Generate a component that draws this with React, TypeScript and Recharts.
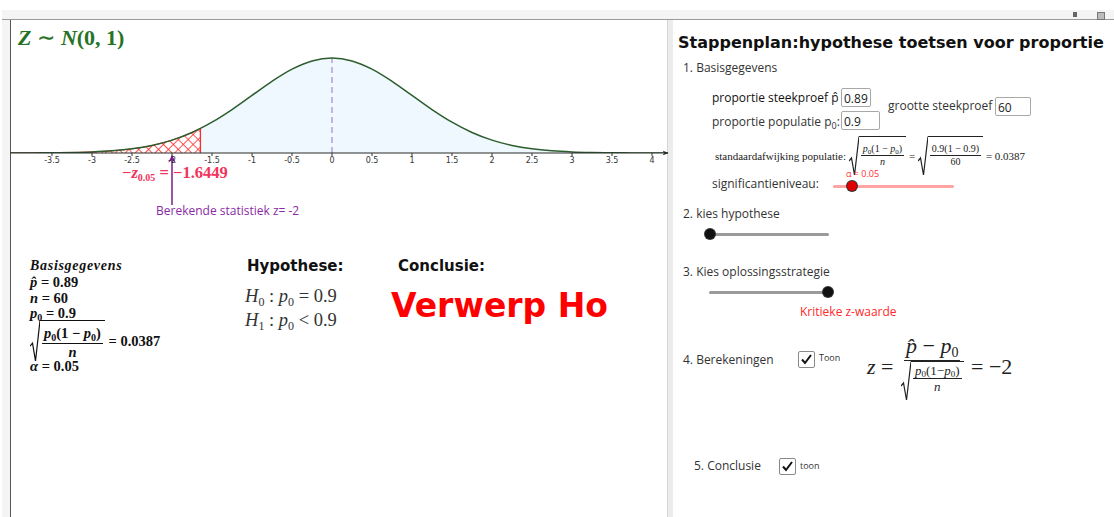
import React from 'react'
import { Area, ComposedChart, Line, ReferenceLine, XAxis, YAxis } from 'recharts'

// z positions and standard normal density
const zValues = [
  -4.05, -4, -3.75, -3.5, -3.25, -3, -2.75, -2.5, -2.25, -2, -1.75, -1.6449, -1.5, -1.25, -1, -0.75,
  -0.5, -0.25, 0, 0.25, 0.5, 0.75, 1, 1.25, 1.5, 1.75, 2, 2.25, 2.5, 2.75, 3, 3.25, 3.5, 3.75, 4, 4.25,
]
const density = [
  0.0001, 0.0001, 0.0004, 0.0009, 0.002, 0.0044, 0.0091, 0.0175, 0.0317, 0.054, 0.0863, 0.1031, 0.1295,
  0.1826, 0.242, 0.3011, 0.3521, 0.3867, 0.3989, 0.3867, 0.3521, 0.3011, 0.242, 0.1826, 0.1295, 0.0863,
  0.054, 0.0317, 0.0175, 0.0091, 0.0044, 0.002, 0.0009, 0.0004, 0.0001, 0.00005,
]
const xTicks = [-3.5, -3, -2.5, -2, -1.5, -1, -0.5, 0, 0.5, 1, 1.5, 2, 2.5, 3, 3.5, 4]
const criticalZ = -1.6449
const testZ = -2

const rows = zValues.map((z, i) => ({
  z,
  f: density[i],
  crit: z <= criticalZ ? density[i] : null,
  rest: z >= criticalZ ? density[i] : null,
}))
const critDensity = density[zValues.indexOf(criticalZ)]
const peakDensity = density[zValues.indexOf(0)]

const SANS = "'Open Sans', 'DejaVu Sans', sans-serif"
const BOLD = "'DejaVu Sans', sans-serif"
const SERIF = "'Liberation Serif', 'DejaVu Serif', serif"

function At({ x, y, h = 20, style, children }: any) {
  return (
    <div
      style={{
        position: 'absolute',
        left: x,
        top: y - h / 2,
        height: h,
        lineHeight: h + 'px',
        whiteSpace: 'nowrap',
        ...style,
      }}
    >
      {children}
    </div>
  )
}

function Sub({ s, children }: any) {
  return <span style={{ fontSize: s, position: 'relative', top: '0.3em', lineHeight: 0 }}>{children}</span>
}

function Frac({ n, d, size }: any) {
  return (
    <span
      style={{
        display: 'inline-flex',
        flexDirection: 'column',
        alignItems: 'center',
        verticalAlign: 'middle',
        fontSize: size,
        lineHeight: 1.2,
        margin: '0 2px',
      }}
    >
      <span style={{ borderBottom: '1px solid currentColor', padding: '0 2px' }}>{n}</span>
      <span>{d}</span>
    </span>
  )
}

function Sqrt({ children }: any) {
  return (
    <span style={{ display: 'inline-flex', alignItems: 'stretch', verticalAlign: 'middle' }}>
      <svg width={10} viewBox="0 0 10 40" preserveAspectRatio="none" style={{ height: 'auto', alignSelf: 'stretch' }}>
        <path d="M0 25 L2.5 22 L5.5 39 L10 0.5" stroke="currentColor" strokeWidth={1.2} fill="none" vectorEffect="non-scaling-stroke" />
      </svg>
      <span style={{ borderTop: '1px solid currentColor', paddingTop: 1 }}>{children}</span>
    </span>
  )
}

function Slider({ x1, x2, y, dot, track, knob }: any) {
  return (
    <>
      <div style={{ position: 'absolute', left: x1, top: y - 1.5, width: x2 - x1, height: 3, background: track, borderRadius: 2 }} />
      <div
        style={{
          position: 'absolute',
          left: dot - 5,
          top: y - 5,
          width: 10,
          height: 10,
          borderRadius: 5,
          background: knob,
          boxShadow: '0 0 0 1px #333',
        }}
      />
    </>
  )
}

function Check({ x, y }: any) {
  return (
    <div
      style={{
        position: 'absolute',
        left: x,
        top: y,
        width: 15,
        height: 15,
        border: '1px solid #8a8a8a',
        borderRadius: 2,
        background: '#fff',
      }}
    >
      <svg width={15} height={15}>
        <path d="M3 7.5 L6 11 L12 3" stroke="#111" strokeWidth={2} fill="none" />
      </svg>
    </div>
  )
}

function Box({ x, y, w, text }: any) {
  return (
    <div
      style={{
        position: 'absolute',
        left: x,
        top: y,
        width: w,
        height: 19,
        border: '1px solid #a8a8a8',
        borderRadius: 2,
        background: '#fff',
        font: `12px ${SANS}`,
        lineHeight: '19px',
        paddingLeft: 2,
        boxSizing: 'border-box',
        color: '#222',
      }}
    >
      {text}
    </div>
  )
}

function NormalChart() {
  return (
    <ComposedChart width={662} height={220} data={rows} margin={{ top: 0, right: 4, bottom: 67, left: 0 }}>
      <defs>
        <pattern id="hatch" width="7" height="7" patternUnits="userSpaceOnUse" patternTransform="rotate(45)">
          <rect width="7" height="7" fill="#fff" />
          <line x1="0" y1="0" x2="0" y2="7" stroke="#ff2a2a" strokeWidth="1.6" />
          <line x1="0" y1="0" x2="7" y2="0" stroke="#ff2a2a" strokeWidth="1.6" />
        </pattern>
        <marker id="axisArrow" viewBox="0 0 10 10" refX="9" refY="5" markerWidth="6" markerHeight="6" orient="auto">
          <path d="M0 1 L10 5 L0 9 L3 5 Z" fill="#2b2b2b" />
        </marker>
        <marker id="statArrow" viewBox="0 0 10 10" refX="9" refY="5" markerWidth="5" markerHeight="5" orient="auto">
          <path d="M0 0 L10 5 L0 10 L3 5 Z" fill="#7a1c8f" />
        </marker>
      </defs>
      <XAxis
        dataKey="z"
        type="number"
        domain={[-4.025, 4.2]}
        allowDataOverflow
        ticks={xTicks}
        interval={0}
        axisLine={false}
        tickLine={{ stroke: '#333' }}
        tickSize={3}
        tickMargin={1}
        height={20}
        tick={{ fontSize: 8, fill: '#333', fontFamily: "'DejaVu Sans', sans-serif" }}
      />
      <YAxis hide domain={[0, 0.5585]} allowDataOverflow />
      <Area dataKey="rest" type="monotone" stroke="none" fill="#eef8fe" fillOpacity={1} isAnimationActive={false} />
      <Area dataKey="crit" type="monotone" stroke="#ff2a2a" strokeWidth={1} fill="url(#hatch)" fillOpacity={1} isAnimationActive={false} />
      <ReferenceLine segment={[{ x: criticalZ, y: 0 }, { x: criticalZ, y: critDensity }]} stroke="#ff2a2a" strokeWidth={1.3} />
      <ReferenceLine
        segment={[{ x: 0, y: 0 }, { x: 0, y: peakDensity }]}
        stroke="#b49be0"
        strokeWidth={1.5}
        strokeDasharray="6 4"
      />
      <Line dataKey="f" type="monotone" stroke="#2c5e2e" strokeWidth={1.5} dot={false} isAnimationActive={false} />
      <ReferenceLine y={0} stroke="#2b2b2b" strokeWidth={1} markerEnd="url(#axisArrow)" />
      <ReferenceLine
        segment={[{ x: testZ, y: -0.218 }, { x: testZ, y: -0.012 }]}
        ifOverflow="visible"
        stroke="#7a1c8f"
        strokeWidth={1.5}
        markerEnd="url(#statArrow)"
      />
    </ComposedChart>
  )
}

export default function App() {
  const mathBold = { fontFamily: SERIF, fontWeight: 700, fontSize: 14.5, color: '#111' }
  const gui = { fontFamily: SANS, fontSize: 12, color: '#333' }
  return (
    <div style={{ position: 'absolute', left: 0, top: 0, width: 1114, height: 517, overflow: 'hidden', background: '#fff' }}>
      {/* frame */}
      <div style={{ position: 'absolute', left: 2, top: 10, width: 1112, height: 9, background: '#f4f4f4' }} />
      <div style={{ position: 'absolute', left: 2, top: 19, width: 1112, height: 1, background: '#9a9a9a' }} />
      <div style={{ position: 'absolute', left: 2, top: 20, width: 8, height: 497, background: '#f4f4f4' }} />
      <div style={{ position: 'absolute', left: 10, top: 20, width: 1, height: 497, background: '#555' }} />
      <div style={{ position: 'absolute', left: 667, top: 20, width: 5, height: 497, background: '#ececec', borderLeft: '1px solid #d6d6d6' }} />
      <div style={{ position: 'absolute', left: 1073, top: 12, width: 4, height: 5, background: '#666' }} />
      <div style={{ position: 'absolute', left: 1097, top: 12, width: 6, height: 6, border: '1px solid #777', background: '#bbb' }} />

      <div style={{ position: 'absolute', left: 10, top: 20 }}>
        <NormalChart />
      </div>

      <At x={18} y={38} h={24} style={{ fontFamily: SERIF, fontWeight: 700, fontSize: 22, color: '#267326' }}>
        <i>Z</i> ∼ <i>N</i>(0, 1)
      </At>

      <At x={122} y={173} h={18} style={{ fontFamily: SERIF, fontWeight: 700, fontSize: 16.5, color: '#f2335c' }}>
        −<i>z</i>
        <Sub s={10}>0.05</Sub> = −1.6449
      </At>

      <At x={156} y={211} h={16} style={{ fontFamily: SANS, fontSize: 12, color: '#8a2aa6' }}>
        Berekende statistiek z= -2
      </At>

      {/* left summary */}
      <At x={30} y={266} h={16} style={{ ...mathBold, fontStyle: 'italic', fontSize: 14, letterSpacing: 0.7 }}>
        Basisgegevens
      </At>
      <At x={30} y={282} h={16} style={mathBold}>
        <i>p̂</i> = 0.89
      </At>
      <At x={30} y={298} h={16} style={mathBold}>
        <i>n</i> = 60
      </At>
      <At x={30} y={313} h={16} style={mathBold}>
        <i>p</i>
        <Sub s={10}>0</Sub> = 0.9
      </At>
      <At x={30} y={339} h={40} style={mathBold}>
        <Sqrt>
          <Frac
            size={14.5}
            n={
              <>
                <i>p</i>
                <Sub s={10}>0</Sub>(1 − <i>p</i>
                <Sub s={10}>0</Sub>)
              </>
            }
            d={<i>n</i>}
          />
        </Sqrt>
        <span style={{ verticalAlign: 'middle' }}> = 0.0387</span>
      </At>
      <At x={30} y={366} h={16} style={mathBold}>
        <i>α</i> = 0.05
      </At>

      <At x={247} y={266} h={20} style={{ fontFamily: BOLD, fontWeight: 700, fontSize: 15, color: '#111' }}>
        Hypothese:
      </At>
      <At x={245} y={296} h={22} style={{ fontFamily: SERIF, fontSize: 18.5, color: '#333' }}>
        <i>H</i>
        <Sub s={12}>0</Sub> : <i>p</i>
        <Sub s={12}>0</Sub> = 0.9
      </At>
      <At x={245} y={320} h={22} style={{ fontFamily: SERIF, fontSize: 18.5, color: '#333' }}>
        <i>H</i>
        <Sub s={12}>1</Sub> : <i>p</i>
        <Sub s={12}>0</Sub> &lt; 0.9
      </At>
      <At x={398} y={266} h={20} style={{ fontFamily: BOLD, fontWeight: 700, fontSize: 15, color: '#111' }}>
        Conclusie:
      </At>
      <At x={391} y={306} h={38} style={{ fontFamily: BOLD, fontWeight: 700, fontSize: 33, color: '#ff0000' }}>
        Verwerp Ho
      </At>

      {/* right panel */}
      <At x={678} y={43} h={22} style={{ fontFamily: BOLD, fontWeight: 700, fontSize: 16, color: '#111' }}>
        Stappenplan:hypothese toetsen voor proportie
      </At>
      <At x={683} y={68} h={16} style={gui}>
        1. Basisgegevens
      </At>
      <At x={712} y={98} h={16} style={{ ...gui, color: '#111' }}>
        proportie steekproef p̂ :
      </At>
      <Box x={841} y={88} w={30} text="0.89" />
      <At x={888} y={106} h={16} style={gui}>
        grootte steekproef
      </At>
      <Box x={995} y={97} w={36} text="60" />
      <At x={712} y={122} h={16} style={gui}>
        proportie populatie p<Sub s={9}>0</Sub>:
      </At>
      <Box x={841} y={111} w={39} text="0.9" />

      <At x={715} y={152} h={32} style={{ fontFamily: SERIF, fontSize: 11, color: '#222' }}>
        <span style={{ verticalAlign: 'middle' }}>standaardafwijking populatie: </span>
        <Sqrt>
          <Frac
            size={10}
            n={
              <>
                <i>p</i>
                <Sub s={7}>0</Sub>(1 − <i>p</i>
                <Sub s={7}>0</Sub>)
              </>
            }
            d={<i>n</i>}
          />
        </Sqrt>
        <span style={{ verticalAlign: 'middle' }}> = </span>
        <Sqrt>
          <Frac size={10} n="0.9(1 − 0.9)" d="60" />
        </Sqrt>
        <span style={{ verticalAlign: 'middle' }}> = 0.0387</span>
      </At>

      <At x={712} y={184} h={16} style={gui}>
        significantieniveau:
      </At>
      <At x={846} y={174} h={12} style={{ fontFamily: SANS, fontSize: 9, color: '#ff3030' }}>
        α = 0.05
      </At>
      <Slider x1={833} x2={954} y={186} dot={852} track="#ffa3a3" knob="#e00000" />

      <At x={683} y={214} h={16} style={gui}>
        2. kies hypothese
      </At>
      <Slider x1={708} x2={829} y={234} dot={710} track="#9a9a9a" knob="#111" />

      <At x={683} y={272} h={16} style={gui}>
        3. Kies oplossingsstrategie
      </At>
      <Slider x1={709} x2={828} y={292} dot={828} track="#9a9a9a" knob="#111" />
      <At x={800} y={312} h={16} style={{ ...gui, color: '#ff2a2a' }}>
        Kritieke z-waarde
      </At>

      <At x={683} y={360} h={16} style={gui}>
        4. Berekeningen
      </At>
      <Check x={798} y={351} />
      <At x={819} y={358} h={12} style={{ fontFamily: SANS, fontSize: 9, color: '#333' }}>
        Toon
      </At>
      <At x={867} y={365} h={64} style={{ fontFamily: SERIF, fontSize: 22, color: '#222' }}>
        <i style={{ verticalAlign: 'middle' }}>z</i>
        <span style={{ verticalAlign: 'middle' }}> = </span>
        <Frac
          size={22}
          n={
            <>
              <i>p̂</i> − <i>p</i>
              <Sub s={14}>0</Sub>
            </>
          }
          d={
            <Sqrt>
              <Frac
                size={13}
                n={
                  <>
                    <i>p</i>
                    <Sub s={9}>0</Sub>(1−<i>p</i>
                    <Sub s={9}>0</Sub>)
                  </>
                }
                d={<i>n</i>}
              />
            </Sqrt>
          }
        />
        <span style={{ verticalAlign: 'middle' }}> = −2</span>
      </At>

      <At x={694} y={466} h={16} style={gui}>
        5. Conclusie
      </At>
      <Check x={779} y={458} />
      <At x={800} y={466} h={12} style={{ fontFamily: SANS, fontSize: 9, color: '#333' }}>
        toon
      </At>
    </div>
  )
}
